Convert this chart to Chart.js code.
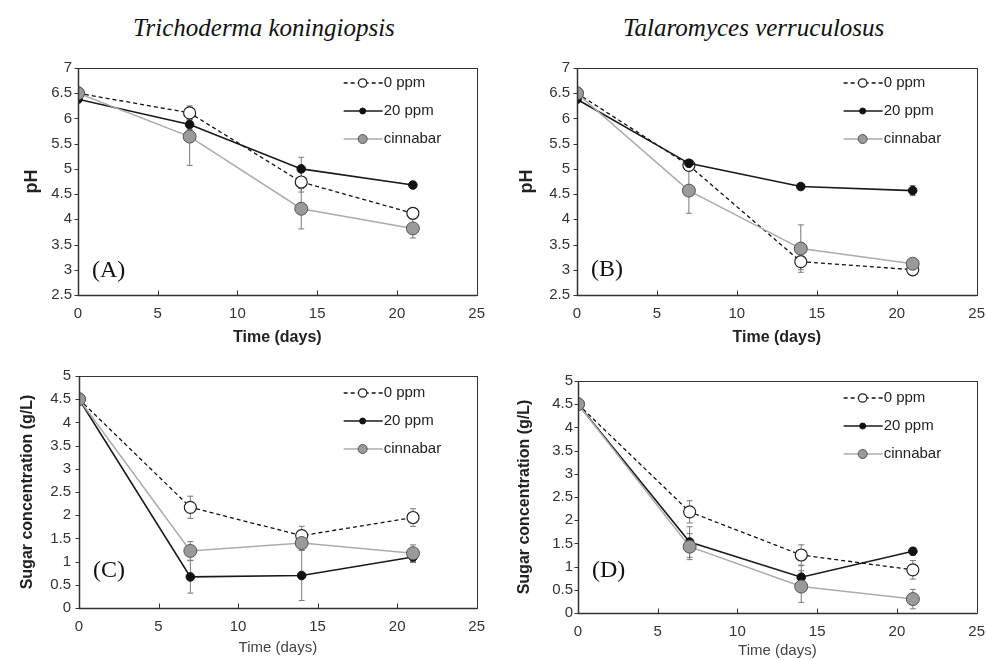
<!DOCTYPE html>
<html>
<head>
<meta charset="utf-8">
<script src="https://cdn.jsdelivr.net/npm/chart.js@4.4.1/dist/chart.umd.min.js"></script>
<style>
  html, body { margin: 0; padding: 0; background: #fff; width: 987px; height: 660px; overflow: hidden; position: relative; }
  .panel { position: absolute; }
  .title { position: absolute; top: 14px; font-family: "Liberation Serif", "Times New Roman", serif; font-style: italic; font-size: 25px; line-height: 28px; color: #111; white-space: nowrap; }
</style>
</head>
<body>
<div class="title" style="left:133px">Trichoderma koningiopsis</div>
<div class="title" style="left:623px">Talaromyces verruculosus</div>

<div class="panel" style="left:0;top:40px"><canvas id="chartA" width="495" height="310"></canvas></div>
<div class="panel" style="left:490px;top:40px"><canvas id="chartB" width="505" height="310"></canvas></div>
<div class="panel" style="left:0;top:355px"><canvas id="chartC" width="495" height="305"></canvas></div>
<div class="panel" style="left:490px;top:355px"><canvas id="chartD" width="505" height="305"></canvas></div>

<script>
// Dados
const days = [0, 7, 14, 21];
const seriesNames = ['0 ppm', '20 ppm', 'cinnabar'];

// (A) pH - Trichoderma koningiopsis
const phTrich0 = [6.50, 6.11, 4.74, 4.12];
const phTrich0Err = [0, 0.14, 0.20, 0.10];
const phTrich20 = [6.38, 5.88, 5.00, 4.68];
const phTrich20Err = [0, 0.10, 0.23, 0.05];
const phTrichCin = [6.50, 5.64, 4.21, 3.82];
const phTrichCinErr = [0, 0.57, 0.40, 0.19];

// (B) pH - Talaromyces verruculosus
const phTala0 = [6.50, 5.07, 3.16, 3.00];
const phTala0Err = [0, 0.10, 0.16, 0.05];
const phTala20 = [6.38, 5.11, 4.65, 4.57];
const phTala20Err = [0, 0.05, 0.05, 0.10];
const phTalaCin = [6.50, 4.57, 3.42, 3.12];
const phTalaCinErr = [0, 0.45, 0.47, 0.08];

// (C) açúcar - Trichoderma koningiopsis
const sugTrich0 = [4.50, 2.17, 1.56, 1.95];
const sugTrich0Err = [0, 0.24, 0.20, 0.19];
const sugTrich20 = [4.50, 0.67, 0.70, 1.10];
const sugTrich20Err = [0, 0.35, 0.54, 0.12];
const sugTrichCin = [4.50, 1.23, 1.40, 1.18];
const sugTrichCinErr = [0, 0.20, 0.15, 0.18];

// (D) açúcar - Talaromyces verruculosus
const sugTala0 = [4.50, 2.18, 1.25, 0.93];
const sugTala0Err = [0, 0.24, 0.22, 0.20];
const sugTala20 = [4.50, 1.53, 0.77, 1.33];
const sugTala20Err = [0, 0.33, 0.25, 0.08];
const sugTalaCin = [4.50, 1.43, 0.57, 0.30];
const sugTalaCinErr = [0, 0.28, 0.34, 0.21];

const SANS = '"Liberation Sans", Arial, sans-serif';
const SERIF = '"Liberation Serif", "Times New Roman", serif';

// estilo de cada série (linha + marcador)
const seriesStyles = [
    { line: '#111', dash: [4, 3], width: 1.3, fill: '#fff', stroke: '#222', radius: 6, border: 1.2, legendRadius: 4.2, order: 2 },
    { line: '#1a1a1a', dash: [], width: 1.6, fill: '#111', stroke: '#111', radius: 4.3, border: 1, legendRadius: 3, order: 1 },
    { line: '#ababab', dash: [], width: 1.5, fill: '#9a9a9a', stroke: '#555', radius: 6.5, border: 1, legendRadius: 4.5, order: 0 }
];

// Plugin: barras de erro, moldura, ticks, legenda e letra do painel
const panelDecor = {
    id: 'panelDecor',
    beforeDatasetsDraw(chart) {
        const { ctx, scales: { x, y } } = chart;
        ctx.save();
        ctx.strokeStyle = '#7a7a7a';
        ctx.lineWidth = 1;
        chart.data.datasets.forEach(ds => {
            ds.data.forEach((p, i) => {
                const e = ds.errors[i];
                if (!e) return;
                const px = x.getPixelForValue(p.x);
                const top = y.getPixelForValue(p.y + e);
                const bot = y.getPixelForValue(p.y - e);
                ctx.beginPath();
                ctx.moveTo(px, top); ctx.lineTo(px, bot);
                ctx.moveTo(px - 3, top); ctx.lineTo(px + 3, top);
                ctx.moveTo(px - 3, bot); ctx.lineTo(px + 3, bot);
                ctx.stroke();
            });
        });
        ctx.restore();
    },
    afterDraw(chart, args, opts) {
        const { ctx, chartArea: a, scales: { x, y } } = chart;
        const L = Math.round(a.left) + 0.5, B = Math.round(a.bottom) + 0.5;
        ctx.save();
        // moldura
        ctx.strokeStyle = '#333';
        ctx.lineWidth = 1;
        ctx.strokeRect(L, Math.round(a.top) + 0.5, Math.round(a.right - a.left), Math.round(a.bottom - a.top));
        // eixos esquerdo e inferior um pouco mais grossos
        ctx.lineWidth = 1.5;
        ctx.beginPath();
        ctx.moveTo(L, a.top); ctx.lineTo(L, B); ctx.lineTo(a.right, B);
        ctx.stroke();
        ctx.lineWidth = 1;
        ctx.beginPath();
        // ticks internos no eixo x
        x.ticks.forEach(t => {
            const px = Math.round(x.getPixelForValue(t.value)) + 0.5;
            ctx.moveTo(px, B);
            ctx.lineTo(px, B - 5);
        });
        // ticks externos no eixo y
        y.ticks.forEach(t => {
            const py = Math.round(y.getPixelForValue(t.value)) + 0.5;
            ctx.moveTo(L, py);
            ctx.lineTo(L - 4, py);
        });
        ctx.stroke();

        // legenda
        ctx.font = '15px ' + SANS;
        ctx.textBaseline = 'middle';
        ctx.textAlign = 'left';
        const lx = a.right - 133;
        seriesNames.forEach((name, i) => {
            const s = seriesStyles[i];
            const ly = a.top + opts.legendTop + i * 28;
            ctx.strokeStyle = s.line;
            ctx.lineWidth = s.width;
            ctx.setLineDash(s.dash);
            ctx.beginPath();
            ctx.moveTo(lx, ly);
            ctx.lineTo(lx + 39, ly);
            ctx.stroke();
            ctx.setLineDash([]);
            ctx.beginPath();
            ctx.arc(lx + 19, ly, s.legendRadius, 0, Math.PI * 2);
            ctx.fillStyle = s.fill;
            ctx.fill();
            ctx.strokeStyle = s.stroke;
            ctx.lineWidth = s.border;
            ctx.stroke();
            ctx.fillStyle = '#222';
            ctx.fillText(name, lx + 40, ly);
        });

        // letra do painel
        ctx.font = '24px ' + SERIF;
        ctx.fillStyle = '#111';
        ctx.fillText(opts.letter, a.left + opts.letterDx, a.bottom - opts.letterDy);
        ctx.restore();
    }
};

function buildDatasets(values, errors) {
    return values.map((vals, k) => {
        const s = seriesStyles[k];
        return {
            label: seriesNames[k],
            data: days.map((d, i) => ({ x: d, y: vals[i] })),
            errors: errors[k],
            order: s.order,
            borderColor: s.line,
            borderWidth: s.width,
            borderDash: s.dash,
            pointRadius: s.radius,
            pointBackgroundColor: s.fill,
            pointBorderColor: s.stroke,
            pointBorderWidth: s.border,
            tension: 0
        };
    });
}

function drawPanel(id, cfg) {
    const canvas = document.getElementById(id);
    if (!canvas) return null;
    return new Chart(canvas.getContext('2d'), {
        type: 'line',
        data: { datasets: buildDatasets(cfg.values, cfg.errors) },
        options: {
            responsive: false,
            animation: false,
            layout: { padding: cfg.padding },
            plugins: {
                legend: { display: false },
                tooltip: { enabled: false },
                panelDecor: { letter: cfg.letter, letterDx: 14, letterDy: cfg.letterDy, legendTop: cfg.legendTop }
            },
            scales: {
                x: {
                    type: 'linear',
                    min: 0, max: 25,
                    ticks: { stepSize: 5, padding: 10, color: '#333', font: { family: SANS, size: 15 } },
                    grid: { display: false, drawTicks: false },
                    border: { display: false },
                    title: {
                        display: true,
                        text: 'Time (days)',
                        color: cfg.xTitleBold ? '#222' : '#444',
                        font: { family: SANS, size: cfg.xTitleBold ? 16 : 15, weight: cfg.xTitleBold ? 'bold' : 'normal' },
                        padding: { top: 0, bottom: cfg.xTitlePad }
                    },
                    afterFit: s => { s.height = cfg.xh; }
                },
                y: {
                    min: cfg.yMin, max: cfg.yMax,
                    ticks: { stepSize: cfg.yStep, padding: cfg.yTickPad, color: '#333', font: { family: SANS, size: 15 }, callback: v => String(v) },
                    grid: { display: false, drawTicks: false },
                    border: { display: false },
                    title: {
                        display: true,
                        text: cfg.yTitle,
                        color: '#222',
                        font: { family: SANS, size: cfg.yTitleSize, weight: 'bold' },
                        padding: { top: cfg.yTitlePad, bottom: 0 }
                    },
                    afterFit: s => { s.width = cfg.yw; }
                }
            }
        },
        plugins: [panelDecor]
    });
}

drawPanel('chartA', {
    values: [phTrich0, phTrich20, phTrichCin],
    errors: [phTrich0Err, phTrich20Err, phTrichCinErr],
    yMin: 2.5, yMax: 7, yStep: 0.5, yTitle: 'pH', yTitleSize: 18,
    padding: { left: 0, top: 28, right: 14, bottom: 0 },
    yw: 78, xh: 55, yTitlePad: 21, yTickPad: 6, xTitleBold: true, xTitlePad: 3,
    letter: '(A)', letterDy: 24, legendTop: 15
});

drawPanel('chartB', {
    values: [phTala0, phTala20, phTalaCin],
    errors: [phTala0Err, phTala20Err, phTalaCinErr],
    yMin: 2.5, yMax: 7, yStep: 0.5, yTitle: 'pH', yTitleSize: 18,
    padding: { left: 0, top: 28, right: 15, bottom: 0 },
    yw: 87, xh: 55, yTitlePad: 26, yTickPad: 7, xTitleBold: true, xTitlePad: 3,
    letter: '(B)', letterDy: 25, legendTop: 15
});

drawPanel('chartC', {
    values: [sugTrich0, sugTrich20, sugTrichCin],
    errors: [sugTrich0Err, sugTrich20Err, sugTrichCinErr],
    yMin: 0, yMax: 5, yStep: 0.5, yTitle: 'Sugar concentration (g/L)', yTitleSize: 16,
    padding: { left: 0, top: 21, right: 13, bottom: 0 },
    yw: 79, xh: 52, yTitlePad: 18, yTickPad: 8, xTitleBold: false, xTitlePad: 3,
    letter: '(C)', letterDy: 37, legendTop: 17
});

drawPanel('chartD', {
    values: [sugTala0, sugTala20, sugTalaCin],
    errors: [sugTala0Err, sugTala20Err, sugTalaCinErr],
    yMin: 0, yMax: 5, yStep: 0.5, yTitle: 'Sugar concentration (g/L)', yTitleSize: 16,
    padding: { left: 0, top: 26, right: 14, bottom: 0 },
    yw: 88, xh: 47, yTitlePad: 25, yTickPad: 5, xTitleBold: false, xTitlePad: 0,
    letter: '(D)', letterDy: 42, legendTop: 17
});
</script>
</body>
</html>
